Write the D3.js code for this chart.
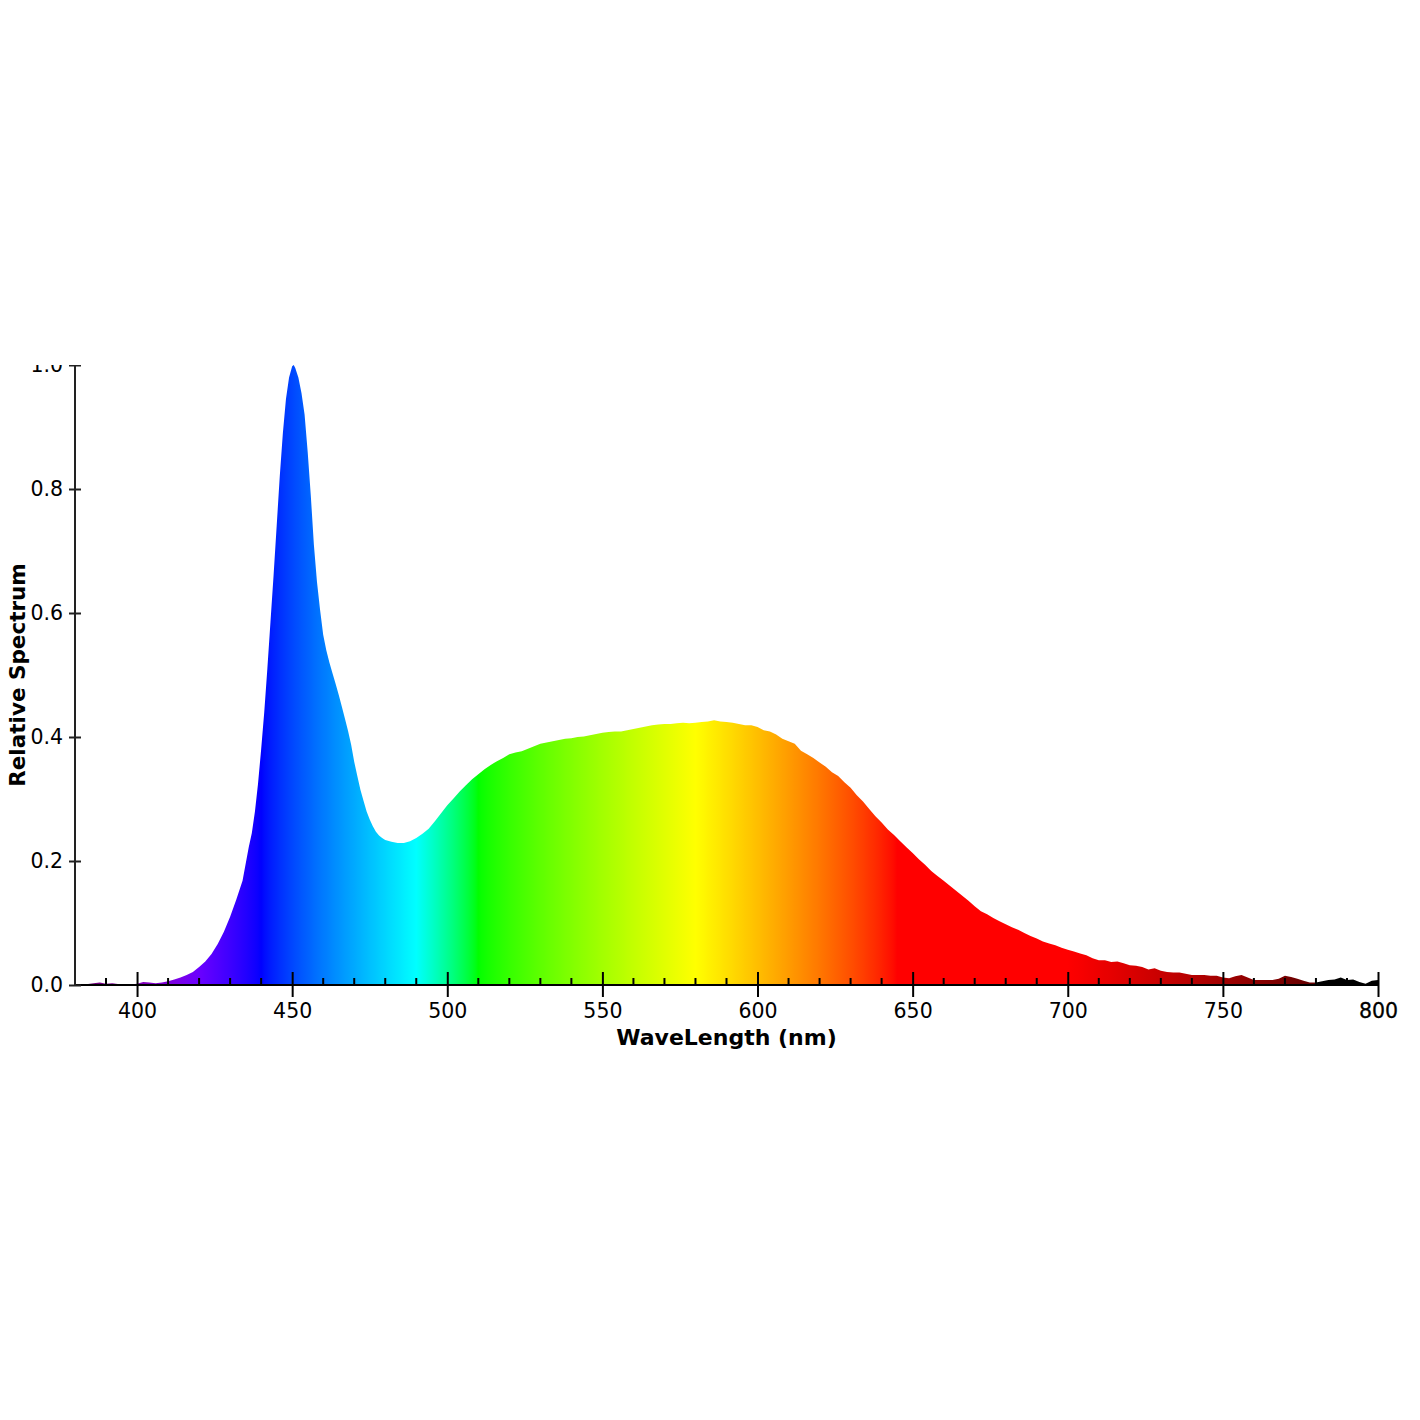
<!DOCTYPE html>
<html>
<head>
<meta charset="utf-8">
<script src="https://cdn.jsdelivr.net/npm/d3@7"></script>
<style>
	body { margin: 0; background: #fff; }
	svg { display: block; font-family: "DejaVu Sans", sans-serif; }
</style>
</head>
<body>
<script>
//************************************************************
// Data: wavelength (nm) and relative spectrum
//************************************************************
var wavelengths = [
	380, 383, 386, 388, 390, 392, 395, 398, 400, 402, 404, 406, 408, 410, 412, 414, 416, 418,
	420, 422, 424, 426, 428, 430, 432, 434, 436, 437, 438, 439, 440, 441, 442, 443, 444, 445,
	446, 447, 448, 449, 450, 450.5, 451, 452, 453, 454, 455, 456, 457, 458, 459, 460, 461, 462,
	463, 464, 465, 466, 467, 468, 469, 470, 471, 472, 473, 474, 475, 476, 477, 478, 479, 480,
	482, 484, 486, 488, 490, 492, 494, 496, 498, 500, 502, 504, 506, 508, 510, 512, 514, 516,
	518, 520, 522, 524, 526, 528, 530, 532, 534, 536, 538, 540, 542, 544, 546, 548, 550, 552,
	554, 556, 558, 560, 562, 564, 566, 568, 570, 572, 574, 576, 578, 580, 582, 584, 586, 588,
	590, 592, 594, 596, 598, 600, 602, 604, 606, 608, 610, 612, 614, 616, 618, 620, 622, 624,
	626, 628, 630, 632, 634, 636, 638, 640, 642, 644, 646, 648, 650, 652, 654, 656, 658, 660,
	662, 664, 666, 668, 670, 672, 674, 676, 678, 680, 682, 684, 686, 688, 690, 692, 694, 696,
	698, 700, 702, 704, 706, 708, 710, 712, 714, 716, 718, 720, 722, 724, 726, 728, 730, 732,
	734, 736, 738, 740, 742, 744, 746, 748, 750, 752, 754, 756, 758, 760, 762, 764, 766, 768,
	770, 772, 774, 776, 778, 780, 782, 784, 786, 788, 790, 792, 794, 796, 798, 800
];

var spectrum = [
	0.000, 0.001, 0.003, 0.004, 0.002, 0.003, 0.001, 0.001, 0.002, 0.005, 0.004, 0.003, 0.004, 0.006, 0.009, 0.012, 0.016, 0.021,
	0.029, 0.038, 0.050, 0.066, 0.086, 0.110, 0.138, 0.168, 0.222, 0.245, 0.280, 0.325, 0.380, 0.440, 0.510, 0.585, 0.660, 0.740,
	0.820, 0.890, 0.945, 0.980, 0.998, 1.000, 0.995, 0.980, 0.955, 0.920, 0.860, 0.790, 0.710, 0.650, 0.605, 0.565, 0.540, 0.520,
	0.503, 0.486, 0.468, 0.449, 0.430, 0.410, 0.388, 0.360, 0.337, 0.315, 0.297, 0.280, 0.267, 0.256, 0.247, 0.241, 0.237, 0.234,
	0.231, 0.229, 0.229, 0.232, 0.237, 0.244, 0.252, 0.264, 0.277, 0.290, 0.301, 0.312, 0.322, 0.332, 0.340, 0.348, 0.355, 0.361,
	0.366, 0.372, 0.375, 0.377, 0.381, 0.385, 0.389, 0.391, 0.393, 0.395, 0.397, 0.398, 0.400, 0.401, 0.403, 0.405, 0.407, 0.408,
	0.409, 0.409, 0.411, 0.413, 0.415, 0.417, 0.419, 0.420, 0.421, 0.421, 0.422, 0.423, 0.422, 0.423, 0.424, 0.425, 0.427, 0.425,
	0.424, 0.423, 0.421, 0.419, 0.419, 0.416, 0.411, 0.409, 0.404, 0.397, 0.393, 0.389, 0.378, 0.372, 0.366, 0.359, 0.352, 0.343,
	0.337, 0.327, 0.318, 0.306, 0.296, 0.284, 0.272, 0.262, 0.251, 0.242, 0.232, 0.222, 0.213, 0.203, 0.194, 0.184, 0.176, 0.168,
	0.160, 0.152, 0.144, 0.136, 0.127, 0.119, 0.114, 0.108, 0.103, 0.098, 0.093, 0.089, 0.084, 0.079, 0.075, 0.070, 0.067, 0.064,
	0.060, 0.057, 0.054, 0.051, 0.048, 0.043, 0.040, 0.040, 0.037, 0.038, 0.035, 0.032, 0.031, 0.029, 0.025, 0.027, 0.023, 0.021,
	0.020, 0.020, 0.018, 0.016, 0.016, 0.016, 0.015, 0.015, 0.012, 0.011, 0.014, 0.016, 0.012, 0.008, 0.008, 0.008, 0.008, 0.010,
	0.015, 0.013, 0.010, 0.007, 0.004, 0.004, 0.006, 0.008, 0.009, 0.012, 0.008, 0.009, 0.005, 0.002, 0.007, 0.008
];

var data = wavelengths.map(function (w, i) {
	return { 'x': w, 'y': spectrum[i] };
});

var xMajorTicks = [400, 450, 500, 550, 600, 650, 700, 750, 800];
var xMinorTicks = d3.range(390, 800, 10).filter(function (d) { return d % 50 !== 0; });
var yTicks = [0, 0.2, 0.4, 0.6, 0.8, 1.0];

//************************************************************
// Wavelength -> RGB (Bruton style)
//************************************************************
function waveColor(w) {
	var r = 0, g = 0, b = 0;
	if (w >= 380 && w < 440) { r = -(w - 440) / 60; b = 1; }
	else if (w >= 440 && w < 490) { g = (w - 440) / 50; b = 1; }
	else if (w >= 490 && w < 510) { g = 1; b = -(w - 510) / 20; }
	else if (w >= 510 && w < 580) { r = (w - 510) / 70; g = 1; }
	else if (w >= 580 && w < 645) { r = 1; g = -(w - 645) / 65; }
	else if (w >= 645 && w <= 780) { r = 1; }
	var f = 1;
	if (w >= 380 && w < 420) f = 0.3 + 0.7 * (w - 380) / 40;
	else if (w > 700 && w <= 780) f = 0.3 + 0.7 * (780 - w) / 80;
	else if (w > 780) f = 0;
	function adj(c) { return c === 0 ? 0 : Math.round(255 * Math.pow(c * f, 0.8)); }
	return d3.rgb(adj(r), adj(g), adj(b)).formatHex();
}

//************************************************************
// Margins, scales, axes
//************************************************************
const margin = { top: 365, right: 42, bottom: 435, left: 75 };
const width = 1420 - margin.left - margin.right;
const height = 1420 - margin.top - margin.bottom;

const xScale = d3.scaleLinear()
	.domain([380, 800])
	.range([0, width]);

const yScale = d3.scaleLinear()
	.domain([0, 1])
	.range([height, 0]);

const svg = d3.select("body").append("svg")
	.attr("width", 1420)
	.attr("height", 1420);

var defs = svg.append("defs");

var grad = defs.append("linearGradient")
	.attr("id", "spectrumGrad")
	.attr("gradientUnits", "userSpaceOnUse")
	.attr("x1", xScale(380))
	.attr("x2", xScale(800))
	.attr("y1", 0)
	.attr("y2", 0);

var stops = d3.range(380, 781, 1).map(function (w) { return { off: w, col: waveColor(w) }; });
stops.push({ off: 780.05, col: "#000000" });
stops.push({ off: 800, col: "#000000" });

grad.selectAll("stop")
	.data(stops)
	.enter()
	.append("stop")
	.attr("offset", function (d) { return (d.off - 380) / 420; })
	.attr("stop-color", function (d) { return d.col; });

// top of the picture cuts off the "1.0" label
defs.append("clipPath")
	.attr("id", "clip")
	.append("rect")
	.attr("x", -margin.left)
	.attr("y", 0)
	.attr("width", 1420)
	.attr("height", 1420);

const g = svg.append("g")
	.attr("transform", "translate(" + margin.left + "," + margin.top + ")")
	.attr("clip-path", "url(#clip)");

//************************************************************
// Spectrum area
//************************************************************
const area = d3.area()
	.x(function (d) { return xScale(d.x); })
	.y0(yScale(0))
	.y1(function (d) { return yScale(d.y); });

g.append("path")
	.datum(data)
	.attr("fill", "url(#spectrumGrad)")
	.attr("d", area);

//************************************************************
// Axes
//************************************************************
const xAxis = d3.axisBottom(xScale)
	.tickValues(xMajorTicks)
	.tickSize(12)
	.tickPadding(6)
	.tickFormat(d3.format("d"));

const xg = g.append("g")
	.attr("class", "x axis")
	.attr("transform", "translate(0," + height + ")")
	.call(xAxis);

xg.select(".domain").remove();
xg.selectAll(".tick line")
	.attr("y1", -13)
	.attr("y2", 12)
	.attr("stroke", "#000")
	.attr("stroke-width", 2);
xg.selectAll(".tick text")
	.attr("font-size", 20.5)
	.attr("font-family", "DejaVu Sans")
	.attr("fill", "#000");

// the last label looks heavier in the original
xg.selectAll(".tick text")
	.filter(function (d) { return d === 800; })
	.attr("stroke", "#000")
	.attr("stroke-width", 0.3);

xg.selectAll(".minor")
	.data(xMinorTicks)
	.enter()
	.append("line")
	.attr("class", "minor")
	.attr("x1", function (d) { return xScale(d); })
	.attr("x2", function (d) { return xScale(d); })
	.attr("y1", -7)
	.attr("y2", 0)
	.attr("stroke", "#000")
	.attr("stroke-width", 2);

xg.append("line")
	.attr("x1", 0)
	.attr("x2", width)
	.attr("y1", 0)
	.attr("y2", 0)
	.attr("stroke", "#000")
	.attr("stroke-width", 2);

const yAxis = d3.axisLeft(yScale)
	.tickValues(yTicks)
	.tickSize(6)
	.tickPadding(6)
	.tickFormat(d3.format(".1f"));

const yg = g.append("g")
	.attr("class", "y axis")
	.call(yAxis);

yg.select(".domain")
	.attr("d", "M0," + yScale(1) + "V" + yScale(0))
	.attr("stroke", "#222")
	.attr("stroke-width", 2);
yg.selectAll(".tick line")
	.attr("x1", -6)
	.attr("x2", 6)
	.attr("stroke", "#222")
	.attr("stroke-width", 2);
yg.selectAll(".tick text")
	.attr("font-size", 20.5)
	.attr("font-family", "DejaVu Sans")
	.attr("fill", "#000");

//************************************************************
// Axis labels
//************************************************************
g.append("text")
	.attr("x", width / 2)
	.attr("y", height + 60)
	.attr("text-anchor", "middle")
	.attr("font-size", 22)
	.attr("font-weight", "bold")
	.attr("fill", "#000")
	.text("WaveLength (nm)");

g.append("text")
	.attr("transform", "rotate(-90)")
	.attr("x", -height / 2)
	.attr("y", -margin.left + 25)
	.attr("text-anchor", "middle")
	.attr("font-size", 21.5)
	.attr("font-weight", "bold")
	.attr("fill", "#000")
	.text("Relative Spectrum");
</script>
</body>
</html>
